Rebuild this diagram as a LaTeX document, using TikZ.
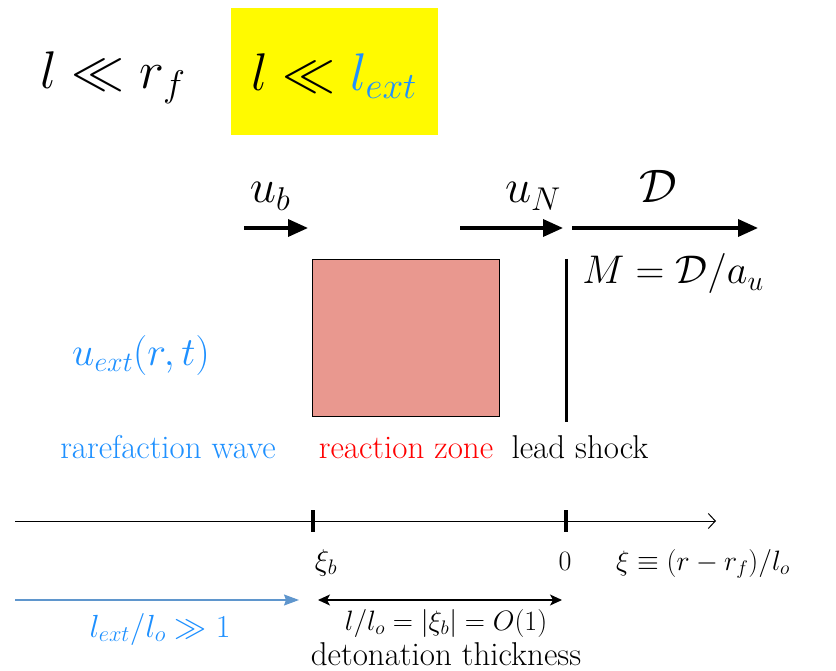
\documentclass[tikz,border=0pt]{standalone}
\usepackage{fix-cm}
\usepackage{amsmath}
\usetikzlibrary{arrows.meta}
\definecolor{XBlue}{RGB}{30,144,255}
\definecolor{XRed}{RGB}{255,0,0}
\definecolor{ZoneFill}{RGB}{233,152,143}
\definecolor{Highlight}{RGB}{255,250,0}
\definecolor{SBlue}{RGB}{95,150,205}
\tikzset{
  bigmath/.style={font=\fontsize{53}{63}\selectfont, anchor=base, inner sep=0pt},
  velmath/.style={font=\fontsize{47}{56}\selectfont, anchor=base, inner sep=0pt},
  midmath/.style={font=\fontsize{40}{48}\selectfont, anchor=base, inner sep=0pt},
  zonetext/.style={font=\fontsize{33}{40}\selectfont, anchor=base, inner sep=0pt},
  axistext/.style={font=\fontsize{28}{34}\selectfont, anchor=base, inner sep=0pt},
  velarrow/.style={line width=3.5pt, -{Triangle[length=20pt,width=17pt]}},
}
\NewDocumentCommand{\AxisTick}{O{(0,0)}}{
    \begin{scope}[shift={#1}]
    \draw[line width=4pt] (0,-11) -- (0,11);
    \end{scope}
}

\begin{document}
\begin{tikzpicture}[x=1pt, y=-1pt]
\useasboundingbox (0,0) rectangle (836,671);

% scale separation
\fill[Highlight] (231,8) rectangle (438,135);
\node[bigmath] (scale-rf) at (113,89) {$l \ll r_f$};
\node[bigmath] (scale-ext) at (334,91) {$l \ll {\color{XBlue}l_{ext}}$};

% velocities
\coordinate (ub-tail) at (244,228);
\coordinate (ub-head) at (308,228);
\coordinate (uN-tail) at (460,228);
\coordinate (uN-head) at (563,228);
\coordinate (D-tail) at (572,228);
\coordinate (D-head) at (758,228);
\draw[velarrow] (ub-tail) -- (ub-head);
\draw[velarrow] (uN-tail) -- (uN-head);
\draw[velarrow] (D-tail) -- (D-head);
\node[velmath] (ub) at (270,203) {$u_b$};
\node[velmath] (uN) at (533,203) {$u_N$};
\node[velmath] (D) at (658,203) {$\mathcal{D}$};
\node[midmath] (mach) at (673,284) {$M=\mathcal{D}/a_u$};

% zones
\node[draw, line width=0.8pt, fill=ZoneFill, minimum width=187pt, minimum height=157pt,
      inner sep=0pt] (zone) at (405.5,337.5) {};
\coordinate (shock-top) at (566,259);
\coordinate (shock-bot) at (566,422);
\draw[line width=3pt] (shock-top) -- (shock-bot);
\node[midmath, text=XBlue] (uext) at (141,365) {$u_{ext}(r,t)$};
\node[zonetext, text=XBlue] (rare) at (168,458) {rarefaction wave};
\node[zonetext, text=XRed] (react) at (406,458) {reaction zone};
\node[zonetext] (lead) at (580,458) {lead shock};

% xi axis
\coordinate (axis-start) at (15,521);
\coordinate (axis-end) at (716,521);
\coordinate (xi-b) at (313,521);
\coordinate (xi-zero) at (566,521);
\draw[line width=1pt, -{Straight Barb[length=7pt,width=15pt]}] (axis-start) -- (axis-end);
\AxisTick[(xi-b)]
\AxisTick[(xi-zero)]
\node[axistext, font=\fontsize{30}{36}\selectfont] (xib-lab) at (326,570) {$\xi_b$};
\node[axistext] (zero-lab) at (565,570) {$0$};
\node[axistext] (xi-lab) at (703,570) {$\xi \equiv (r-r_f)/l_o$};

% lengths
\coordinate (ext-start) at (15,600);
\coordinate (ext-end) at (299,600);
\coordinate (thick-start) at (318,600);
\coordinate (thick-end) at (562,600);
\draw[SBlue, line width=1.2pt, -{Stealth[length=15pt,width=11pt,inset=2pt]}] (ext-start) -- (ext-end);
\draw[line width=1.2pt, {Stealth[length=12pt,width=11pt,inset=3pt]}-{Stealth[length=12pt,width=11pt,inset=3pt]}]
    (thick-start) -- (thick-end);
\node[axistext, font=\fontsize{32}{38}\selectfont, text=XBlue] (ext-lab) at (160,637) {$l_{ext}/l_o \gg 1$};
\node[axistext] (thick-lab) at (446,630) {$l/l_o=|\xi_b|=O(1)$};
\node[zonetext] (det-lab) at (446,665) {detonation thickness};

\end{tikzpicture}
\end{document}
